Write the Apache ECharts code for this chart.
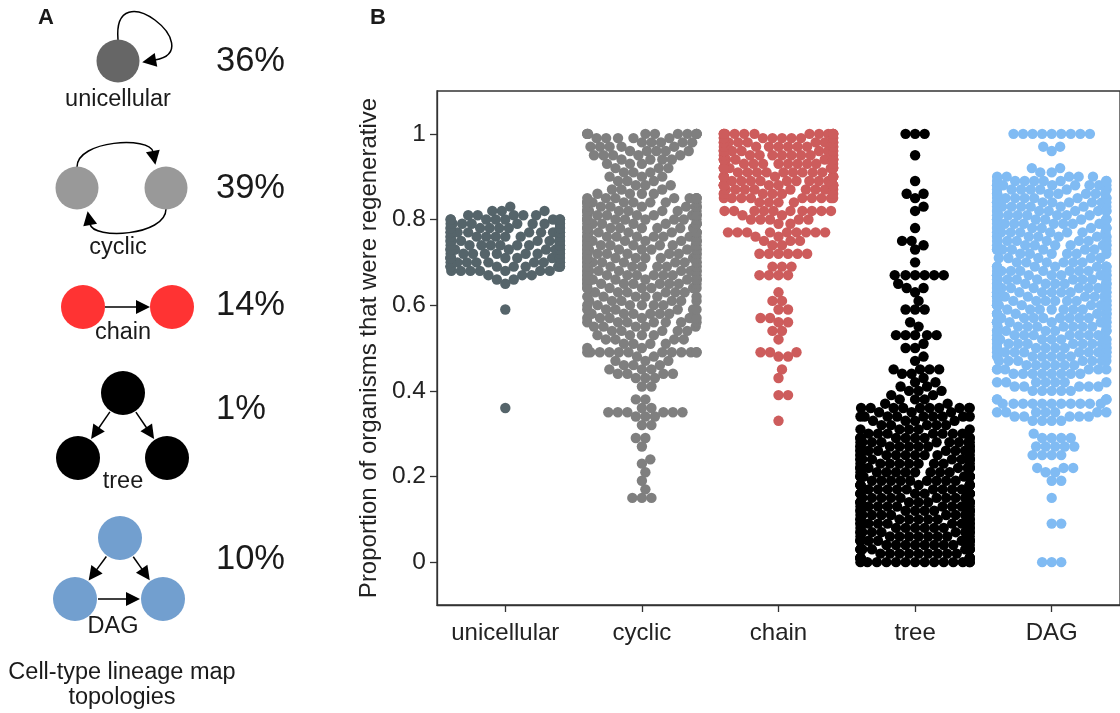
<!DOCTYPE html>
<html><head><meta charset="utf-8">
<script src="https://cdn.jsdelivr.net/npm/echarts@6/dist/echarts.min.js"></script>
<style>html,body{margin:0;padding:0;background:#fff}#c{width:1120px;height:713px}</style>
</head><body><div id="c"></div>
<script>
// ---------------- data ----------------
const categories = ['unicellular', 'cyclic', 'chain', 'tree', 'DAG'];
const yTicks = [0, 0.2, 0.4, 0.6, 0.8, 1];
const topologyShares = ['36%', '39%', '14%', '1%', '10%'];
const yTitle = 'Proportion of organisms that were regenerative';
const panelATitle = ['Cell-type lineage map', 'topologies'];

// [value, count at that value]
const unicellular = [[0.36,1],[0.59,1],[0.65,1],[0.66,2],[0.67,3],[0.68,7],[0.69,9],[0.70,9],[0.71,9],[0.72,9],[0.73,9],[0.74,9],[0.75,9],[0.76,9],[0.77,9],[0.78,9],[0.79,9],[0.80,8],[0.81,5],[0.82,3],[0.83,1]];
const cyclic = [[0.15,3],[0.17,1],[0.19,1],[0.21,1],[0.23,1],[0.24,1],[0.27,1],[0.29,2],[0.32,2],[0.34,3],[0.35,6],[0.36,2],[0.38,2],[0.41,2],[0.43,3],[0.44,4],[0.45,3],[0.46,3],[0.47,3],[0.48,2],[0.49,12],[0.50,2],[0.51,4],[0.52,4],[0.53,4],[0.54,5],[0.55,5],[0.56,7],[0.57,6],[0.58,6],[0.59,6],[0.60,6],[0.61,6],[0.62,6],[0.63,6],[0.64,7],[0.65,9],[0.66,9],[0.67,9],[0.68,9],[0.69,9],[0.70,9],[0.71,9],[0.72,9],[0.73,9],[0.74,9],[0.75,9],[0.76,9],[0.77,9],[0.78,9],[0.79,9],[0.80,9],[0.81,9],[0.82,9],[0.83,9],[0.84,9],[0.85,8],[0.86,4],[0.87,3],[0.88,3],[0.89,3],[0.90,3],[0.91,3],[0.92,3],[0.93,3],[0.94,4],[0.95,5],[0.96,5],[0.97,5],[0.98,5],[0.99,5],[1.00,12]];
const chain = [[0.33,1],[0.39,2],[0.43,1],[0.45,1],[0.48,2],[0.49,3],[0.52,1],[0.54,2],[0.56,2],[0.57,2],[0.59,2],[0.61,2],[0.63,1],[0.67,4],[0.69,3],[0.72,6],[0.74,2],[0.75,3],[0.76,2],[0.77,9],[0.79,2],[0.80,5],[0.81,2],[0.82,10],[0.84,4],[0.85,9],[0.86,6],[0.87,9],[0.88,9],[0.89,9],[0.90,9],[0.91,9],[0.92,9],[0.93,9],[0.94,9],[0.95,9],[0.96,9],[0.97,9],[0.98,9],[0.99,9],[1.00,14]];
const tree = [[0.00,14],[0.01,9],[0.02,9],[0.03,9],[0.04,9],[0.05,9],[0.06,9],[0.07,9],[0.08,9],[0.09,9],[0.10,9],[0.11,9],[0.12,9],[0.13,9],[0.14,9],[0.15,9],[0.16,9],[0.17,9],[0.18,9],[0.19,9],[0.20,9],[0.21,9],[0.22,9],[0.23,9],[0.24,9],[0.25,9],[0.26,9],[0.27,9],[0.28,9],[0.29,9],[0.30,7],[0.31,5],[0.32,5],[0.33,4],[0.34,9],[0.35,3],[0.36,10],[0.37,2],[0.38,3],[0.39,2],[0.40,3],[0.41,2],[0.42,2],[0.43,1],[0.44,2],[0.45,4],[0.47,1],[0.48,1],[0.50,2],[0.51,1],[0.53,5],[0.55,1],[0.56,1],[0.59,3],[0.61,1],[0.63,1],[0.64,2],[0.65,1],[0.67,6],[0.70,1],[0.73,1],[0.74,1],[0.75,2],[0.78,1],[0.82,1],[0.83,1],[0.85,1],[0.86,2],[0.89,1],[0.95,1],[1.00,3]];
const dag = [[0.00,3],[0.09,2],[0.15,1],[0.19,2],[0.21,2],[0.22,3],[0.25,4],[0.27,5],[0.29,4],[0.30,1],[0.33,4],[0.34,5],[0.35,7],[0.37,11],[0.38,5],[0.40,5],[0.41,5],[0.42,7],[0.44,8],[0.45,6],[0.46,6],[0.47,7],[0.48,7],[0.49,9],[0.50,8],[0.51,9],[0.52,8],[0.53,8],[0.54,8],[0.55,9],[0.56,9],[0.57,9],[0.58,9],[0.59,9],[0.60,9],[0.61,9],[0.62,9],[0.63,9],[0.64,9],[0.65,9],[0.66,9],[0.67,9],[0.68,9],[0.69,8],[0.70,6],[0.71,5],[0.72,6],[0.73,8],[0.74,8],[0.75,8],[0.76,8],[0.77,8],[0.78,8],[0.79,8],[0.80,8],[0.81,8],[0.82,8],[0.83,8],[0.84,8],[0.85,8],[0.86,8],[0.87,8],[0.88,8],[0.89,8],[0.90,5],[0.91,2],[0.92,2],[0.96,1],[0.97,2],[1.00,9]];
const seriesData = [unicellular, cyclic, chain, tree, dag];

// ---------------- style / layout ----------------
const swarmColors = ['#55646a', '#7f7f7f', '#cd5c5c', '#000000', '#80bbf3'];
const nodeColors = ['#666666', '#999999', '#ff3333', '#000000', '#729fcf'];
const FONT = '"Liberation Sans", Arial, sans-serif';
const GRID = {left: 437, top: 91, width: 691, height: 514};
const Y_MIN = -0.1, Y_MAX = 1.1;
const R = 4.6;        // radius used by the swarm layout (px)
const DRAW_D = 10.4;  // drawn marker diameter (px)
const pxPerY = GRID.height / (Y_MAX - Y_MIN);
const pxPerCat = GRID.width / categories.length;
const HALF_W = 0.4 * pxPerCat;

function expand(pairs) {
  const out = [];
  pairs.forEach(([v, n]) => { for (let i = 0; i < n; i++) out.push(v); });
  return out;
}
// seaborn-like beeswarm layout (offsets in px, then gutters)
function beeswarm(vals) {
  const ys = vals.slice().sort((a, b) => a - b);
  const placed = [];
  const d2 = 4 * R * R;
  for (const v of ys) {
    const y = v * pxPerY;
    const nb = [];
    for (let j = placed.length - 1; j >= 0; j--) {
      const p = placed[j];
      if (y - p.y >= 2 * R) break;
      nb.push(p);
    }
    const cands = [0];
    for (const p of nb) {
      const dy = y - p.y;
      const dx = Math.sqrt(Math.max(d2 - dy * dy, 0)) * 1.05;
      cands.push(p.x + dx, p.x - dx);
    }
    cands.sort((a, b) => Math.abs(a) - Math.abs(b));
    let x = cands[cands.length - 1];
    for (const c of cands) {
      let ok = true;
      for (const p of nb) {
        const dx = c - p.x, dy = y - p.y;
        if (dx * dx + dy * dy < d2 - 1e-6) { ok = false; break; }
      }
      if (ok) { x = c; break; }
    }
    placed.push({x, y, v});
  }
  return placed.map(p => [Math.max(-HALF_W, Math.min(HALF_W, p.x)), p.v]);
}

const series = seriesData.map((pairs, i) => ({
  type: 'scatter',
  xAxisIndex: 1,
  yAxisIndex: 0,
  symbol: 'circle',
  symbolSize: DRAW_D,
  silent: true,
  itemStyle: {color: swarmColors[i], opacity: 1},
  data: beeswarm(expand(pairs)).map(([dx, v]) => [i + dx / pxPerCat, v])
}));

// ---------------- panel A graphics ----------------
const g = [];
const LW = 1.5;
const AH_LEN = 14, AH_HW = 7;
function node(cx, cy, r, fill) { g.push({type: 'circle', shape: {cx, cy, r}, style: {fill}}); }
function arrowHead(tx, ty, ang) {
  const bx = tx - AH_LEN * Math.cos(ang), by = ty - AH_LEN * Math.sin(ang);
  const nx = -Math.sin(ang), ny = Math.cos(ang);
  g.push({type: 'polygon', shape: {points: [[tx, ty], [bx + AH_HW * nx, by + AH_HW * ny], [bx - AH_HW * nx, by - AH_HW * ny]]}, style: {fill: '#000'}});
}
function straightArrow(x1, y1, x2, y2) {
  const ang = Math.atan2(y2 - y1, x2 - x1);
  g.push({type: 'line', shape: {x1, y1, x2: x2 - 12 * Math.cos(ang), y2: y2 - 12 * Math.sin(ang)}, style: {stroke: '#000', lineWidth: LW}});
  arrowHead(x2, y2, ang);
}
function nodeArrow(a, b, r) {
  const dx = b[0] - a[0], dy = b[1] - a[1], L = Math.hypot(dx, dy);
  const ux = dx / L, uy = dy / L;
  straightArrow(a[0] + (r + 1) * ux, a[1] + (r + 1) * uy, b[0] - (r + 1) * ux, b[1] - (r + 1) * uy);
}
function curveArrow(x1, y1, cpx1, cpy1, cpx2, cpy2, x2, y2) {
  g.push({type: 'bezierCurve', shape: {x1, y1, cpx1, cpy1, cpx2, cpy2, x2, y2}, style: {stroke: '#000', lineWidth: LW, fill: null}});
  const ang = Math.atan2(y2 - cpy2, x2 - cpx2);
  arrowHead(x2 + (AH_LEN - 1) * Math.cos(ang), y2 + (AH_LEN - 1) * Math.sin(ang), ang);
}
function txt(x, y, text, size, opts = {}) {
  g.push({type: 'text', style: Object.assign({x, y, text, fill: '#1a1a1a', align: 'center', verticalAlign: 'middle', font: (opts.weight || 'normal') + ' ' + size + 'px ' + FONT}, opts.style || {})});
}

const TA = 23.5; // panel A label size
// unicellular
curveArrow(118, 40, 112, -30, 210, 50, 155, 60);
node(118, 61, 21.5, nodeColors[0]);
txt(118, 100, categories[0], TA);
// cyclic
curveArrow(77, 167, 77, 140, 150, 136, 153, 152);
curveArrow(166, 209, 166, 236, 93, 240, 90, 224);
node(77, 188, 21.5, nodeColors[1]);
node(166, 188, 21.5, nodeColors[1]);
txt(118, 248, categories[1], TA);
// chain
node(83, 307, 22, nodeColors[2]);
node(172, 307, 22, nodeColors[2]);
straightArrow(105, 307, 150, 307);
txt(123, 333, categories[2], TA);
// tree
node(123, 393, 22, nodeColors[3]);
node(78, 458, 22, nodeColors[3]);
node(167, 458, 22, nodeColors[3]);
nodeArrow([123, 393], [78, 458], 22);
nodeArrow([123, 393], [167, 458], 22);
txt(123, 482, categories[3], TA);
// DAG
node(120, 538, 22, nodeColors[4]);
node(75, 599, 22, nodeColors[4]);
node(163, 599, 22, nodeColors[4]);
nodeArrow([120, 538], [75, 599], 22);
nodeArrow([120, 538], [163, 599], 22);
nodeArrow([75, 599], [163, 599], 22);
txt(113, 627, categories[4], TA);
// percentages
const pctY = [61, 188, 305, 409, 559];
topologyShares.forEach((s, i) => txt(216, pctY[i], s, 34.5, {style: {align: 'left'}}));
// footer
txt(122, 673, panelATitle[0], TA);
txt(122, 698, panelATitle[1], TA);
// panel letters
txt(46, 18, 'A', 22, {weight: 'bold'});
txt(378, 18, 'B', 22, {weight: 'bold'});

// ---------------- chart ----------------
const fmt = v => (v === 0 ? '0' : v === 1 ? '1' : v.toFixed(1));
const AX = '#333';
const chart = echarts.init(document.getElementById('c'), null, {renderer: 'canvas'});
chart.setOption({
  animation: false,
  backgroundColor: '#ffffff',
  textStyle: {fontFamily: FONT},
  grid: Object.assign({show: true, borderColor: AX, borderWidth: 1.3, backgroundColor: 'transparent', containLabel: false}, GRID),
  xAxis: [
    {type: 'category', data: categories, boundaryGap: true,
     axisLine: {show: true, onZero: false, lineStyle: {color: AX, width: 1.3}},
     axisTick: {show: true, alignWithLabel: true, interval: 0, length: 7, lineStyle: {color: AX, width: 1.3}},
     axisLabel: {interval: 0, fontSize: 24, color: '#222', margin: 16, fontFamily: FONT, hideOverlap: false},
     splitLine: {show: false}},
    {type: 'value', min: -0.5, max: 4.5, show: false, axisLine: {onZero: false}}
  ],
  yAxis: [{
    type: 'value', min: Y_MIN, max: Y_MAX,
    axisLine: {show: true, onZero: false, lineStyle: {color: AX, width: 1.3}},
    axisTick: {show: true, length: 7, lineStyle: {color: AX, width: 1.3}, customValues: yTicks},
    axisLabel: {fontSize: 24.5, color: '#222', margin: 11, formatter: fmt, customValues: yTicks, fontFamily: FONT},
    splitLine: {show: false},
    name: yTitle, nameLocation: 'middle', nameRotate: 90, nameGap: 50,
    nameTextStyle: {fontSize: 24, color: '#222', fontFamily: FONT}
  }],
  graphic: g,
  series
});
</script>
</body></html>
